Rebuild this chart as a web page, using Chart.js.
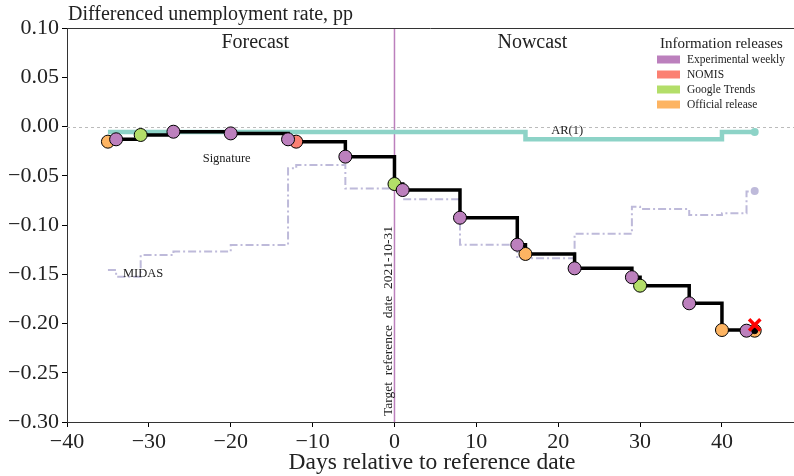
<!DOCTYPE html>
<html>
<head>
<meta charset="utf-8">
<script src="https://cdn.jsdelivr.net/npm/chart.js@4/dist/chart.umd.min.js"></script>
<style>
  html, body { margin: 0; padding: 0; background: #fff; }
</style>
</head>
<body>
<canvas id="nowcast" width="794" height="476"></canvas>
<script>
// release days relative to the reference date, and which source arrived that day
const days = [-35, -34, -31, -27, -20, -13, -12, -6, 0, 1, 8, 15, 16, 22, 29, 30, 36, 40, 43, 44];
const releaseType = ['official', 'weekly', 'google', 'weekly', 'weekly', 'weekly', 'nomis', 'weekly', 'google', 'weekly',
                     'weekly', 'weekly', 'official', 'weekly', 'weekly', 'google', 'weekly', 'official', 'weekly', 'official'];

// model estimates at each release
const signature = [-0.0154, -0.0130, -0.0086, -0.0053, -0.0070, -0.0130, -0.0154, -0.0306, -0.0584, -0.0645,
                   -0.0926, -0.1200, -0.1294, -0.1440, -0.1530, -0.1616, -0.1795, -0.2066, -0.2073, -0.2073];
const midas = [-0.1457, -0.1525, -0.1305, -0.1270, -0.1203, -0.0425, -0.0390, -0.0630, -0.0630, -0.0738,
               -0.1200, -0.1338, -0.1338, -0.1090, -0.0814, -0.0838, -0.0898, -0.0880, -0.0660, -0.0655];
const ar1 = [-0.0056, -0.0056, -0.0056, -0.0056, -0.0056, -0.0056, -0.0056, -0.0056, -0.0056, -0.0056,
             -0.0056, -0.0056, -0.0130, -0.0130, -0.0130, -0.0130, -0.0130, -0.0056, -0.0056, -0.0056];
const actual = { x: 44, y: -0.2015 };

const xTicks = [-40, -30, -20, -10, 0, 10, 20, 30, 40];
const yTicks = [-0.30, -0.25, -0.20, -0.15, -0.10, -0.05, 0.00, 0.05, 0.10];

const sources = ['weekly', 'nomis', 'google', 'official'];
const sourceNames = ['Experimental weekly', 'NOMIS', 'Google Trends', 'Official release'];
const sourceColors = ['#bc80bd', '#fb8072', '#b3de69', '#fdb462'];

const SERIF = "'Liberation Serif', 'DejaVu Serif', serif";

const pts = (ys) => days.map((d, i) => ({ x: d, y: ys[i] }));
const lastOnly = (r) => (ctx) => ctx.dataIndex === days.length - 1 ? r : 0;
const minus = (s) => s.replace('-', '\u2212');

const markerSets = sources.map((s, k) => ({
    label: sourceNames[k],
    type: 'scatter',
    data: days.map((d, i) => ({ x: d, y: signature[i], t: releaseType[i] })).filter(p => p.t === s),
    backgroundColor: sourceColors[k],
    borderColor: '#000',
    borderWidth: 1,
    pointRadius: 6.5,
    pointHoverRadius: 6.5,
    order: 2
}));

const annotations = {
    id: 'annotations',
    beforeDatasetsDraw(chart) {
        const { ctx, chartArea: a, scales: { x, y } } = chart;
        ctx.save();
        // zero line
        ctx.strokeStyle = '#bbbbbb';
        ctx.lineWidth = 1;
        ctx.setLineDash([3, 3]);
        ctx.beginPath();
        ctx.moveTo(a.left, Math.round(y.getPixelForValue(0)) + 0.5);
        ctx.lineTo(a.right, Math.round(y.getPixelForValue(0)) + 0.5);
        ctx.stroke();
        ctx.setLineDash([]);
        // reference date
        ctx.strokeStyle = '#bc80bd';
        ctx.lineWidth = 1.5;
        ctx.beginPath();
        ctx.moveTo(x.getPixelForValue(0), a.top);
        ctx.lineTo(x.getPixelForValue(0), a.bottom);
        ctx.stroke();
        // top spine
        ctx.strokeStyle = '#333';
        ctx.lineWidth = 1;
        ctx.beginPath();
        ctx.moveTo(a.left, a.top + 0.5);
        ctx.lineTo(a.right, a.top + 0.5);
        ctx.stroke();
        ctx.restore();
    },
    afterDraw(chart) {
        const { ctx, scales: { x, y } } = chart;
        ctx.save();
        ctx.fillStyle = '#222';
        ctx.textBaseline = 'middle';

        ctx.font = '20px ' + SERIF;
        ctx.textAlign = 'left';
        ctx.fillText('Differenced unemployment rate, pp', 68, 15);

        ctx.textAlign = 'center';
        ctx.fillText('Forecast', x.getPixelForValue(-17.0), 43);
        ctx.fillText('Nowcast', x.getPixelForValue(16.85), 43);

        ctx.font = '23.5px ' + SERIF;
        ctx.fillText('Days relative to reference date', 432, 463);

        ctx.font = '12.5px ' + SERIF;
        ctx.fillText('Signature', x.getPixelForValue(-20.5), y.getPixelForValue(-0.033));
        ctx.fillText('MIDAS', x.getPixelForValue(-30.7), y.getPixelForValue(-0.149));
        ctx.fillText('AR(1)', x.getPixelForValue(21.1), y.getPixelForValue(-0.0045));

        ctx.save();
        ctx.translate(x.getPixelForValue(0) - 6, 321);
        ctx.rotate(-Math.PI / 2);
        ctx.font = '13.5px ' + SERIF;
        ctx.fillText('Target  reference  date  2021-10-31', 0, 0);
        ctx.restore();

        // legend
        ctx.textAlign = 'left';
        ctx.font = '15px ' + SERIF;
        ctx.fillText('Information releases', 660, 44);
        ctx.font = '11.5px ' + SERIF;
        sourceNames.forEach((n, k) => {
            const cy = 59.5 + k * 15;
            ctx.fillStyle = sourceColors[k];
            ctx.fillRect(657, cy - 4, 23, 8);
            ctx.fillStyle = '#222';
            ctx.fillText(n, 687, cy);
        });
        ctx.restore();
    }
};

new Chart(document.getElementById('nowcast'), {
    type: 'line',
    data: {
        datasets: [
            {
                label: 'actual',
                type: 'scatter',
                data: [actual],
                pointStyle: 'crossRot',
                pointRadius: 8,
                borderColor: '#ff0000',
                borderWidth: 3.5,
                order: 0
            },
            {
                label: 'final',
                type: 'scatter',
                data: [{ x: days[days.length - 1], y: signature[signature.length - 1] }],
                backgroundColor: '#000',
                borderColor: '#000',
                pointRadius: 3,
                order: 1
            },
            ...markerSets,
            {
                label: 'Signature',
                data: pts(signature),
                borderColor: '#000',
                borderWidth: 3.5,
                stepped: 'before',
                pointRadius: 0,
                order: 3
            },
            {
                label: 'AR(1)',
                data: pts(ar1),
                borderColor: '#8dd3c7',
                backgroundColor: '#8dd3c7',
                borderWidth: 4.5,
                stepped: 'before',
                pointRadius: lastOnly(4),
                pointBorderWidth: 0,
                order: 4
            },
            {
                label: 'MIDAS',
                data: pts(midas),
                borderColor: '#bebada',
                backgroundColor: '#bebada',
                borderWidth: 2,
                borderDash: [8, 3, 2, 3],
                stepped: 'before',
                pointRadius: lastOnly(4),
                pointBorderWidth: 0,
                order: 5
            }
        ]
    },
    options: {
        responsive: false,
        animation: false,
        devicePixelRatio: 1,
        layout: { autoPadding: false, padding: { top: 28, right: 0, left: 0, bottom: 0 } },
        plugins: { legend: { display: false }, tooltip: { enabled: false } },
        scales: {
            x: {
                type: 'linear',
                min: -40,
                max: 48.8,
                afterFit(s) { s.height = 54; s.paddingLeft = 0; s.paddingRight = 0; },
                afterBuildTicks(s) { s.ticks = xTicks.map(v => ({ value: v })); },
                grid: { drawOnChartArea: false, tickLength: 5, tickColor: '#000' },
                border: { color: '#333', width: 1 },
                ticks: {
                    color: '#222',
                    padding: 2,
                    maxRotation: 0,
                    font: { family: SERIF, size: 22 },
                    callback: v => minus(String(v))
                }
            },
            y: {
                type: 'linear',
                min: -0.30,
                max: 0.10,
                afterFit(s) { s.width = 67; s.paddingTop = 0; s.paddingBottom = 0; },
                afterBuildTicks(s) { s.ticks = yTicks.map(v => ({ value: v })); },
                grid: { drawOnChartArea: false, tickLength: 5, tickColor: '#000' },
                border: { color: '#333', width: 1 },
                ticks: {
                    color: '#222',
                    padding: 3,
                    font: { family: SERIF, size: 22 },
                    callback: v => minus(v.toFixed(2))
                }
            }
        }
    },
    plugins: [annotations]
});
</script>
</body>
</html>
